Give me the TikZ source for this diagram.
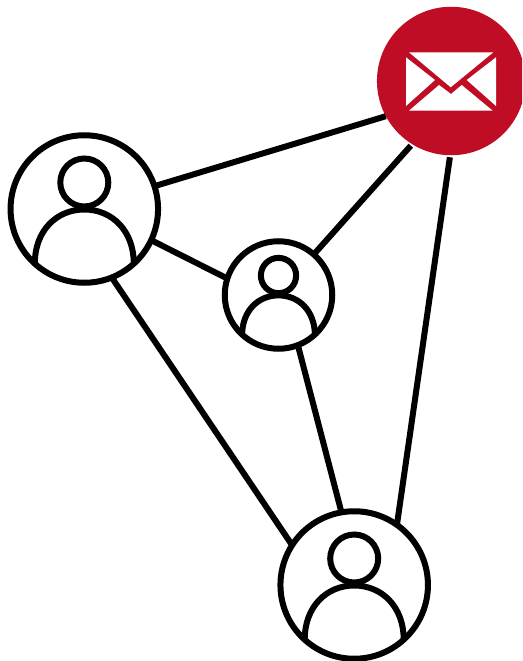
\documentclass[tikz,border=0pt]{standalone}
\definecolor{mailred}{RGB}{191,13,38}
\tikzset{
  every picture/.style={x=1pt,y=-1pt},
  ink/.style={line width=6pt,draw=black},
  personring/.style={circle,ink,inner sep=0pt,fill=none,outer sep=1pt},
  mailring/.style={circle,fill=mailred,draw=none,inner sep=0pt,minimum size=148.5pt,outer sep=2pt},
  link/.style={ink},
  flap/.style={fill=white,draw=none},
  person/.pic={
    \draw[ink] (0,-26.5) circle[radius=24];
    \draw[ink] (-49.5,54.5) .. controls (-49.5,22) and (-28,0.5) .. (0,0.5)
               .. controls (28,0.5) and (49.5,22) .. (49.5,54.5);
  }
}
\begin{document}
\begin{tikzpicture}
\useasboundingbox (0,0) rectangle (522,661);
\clip (0,0) rectangle (522,661);
\node[mailring] (mail) at (451.2,81) {};
\node[personring,minimum size=147.5pt] (left) at (84.3,209) {};
\node[personring,minimum size=107.5pt] (mid) at (278.5,295) {};
\node[personring,minimum size=147.5pt] (low) at (354.2,585) {};
\pic at (left) {person};
\pic[scale=0.735] at (mid) {person};
\pic at (low) {person};
\draw[link,shorten >=-2pt] (left.18) -- (mail.208);
\draw[link] (mid.49) -- (mail.238);
\draw[link] (low.55) -- (mail.269);
\draw[link] (left.-25) -- (mid.162);
\draw[link] (left.-68.5) -- (low.147.6);
\draw[link] (mid.-69) -- (low.100.7);
\fill[flap] (409,52.3) -- (493.3,52.3) -- (450.7,87.3) -- cycle;
\fill[flap] (406,57.3) -- (435,80) -- (406,106) -- cycle;
\fill[flap] (496,57.3) -- (466.7,80) -- (496,106) -- cycle;
\fill[flap] (409,110.7) -- (439,85) -- (451,94) -- (461.7,85) -- (492.7,110.7) -- cycle;
\end{tikzpicture}
\end{document}
